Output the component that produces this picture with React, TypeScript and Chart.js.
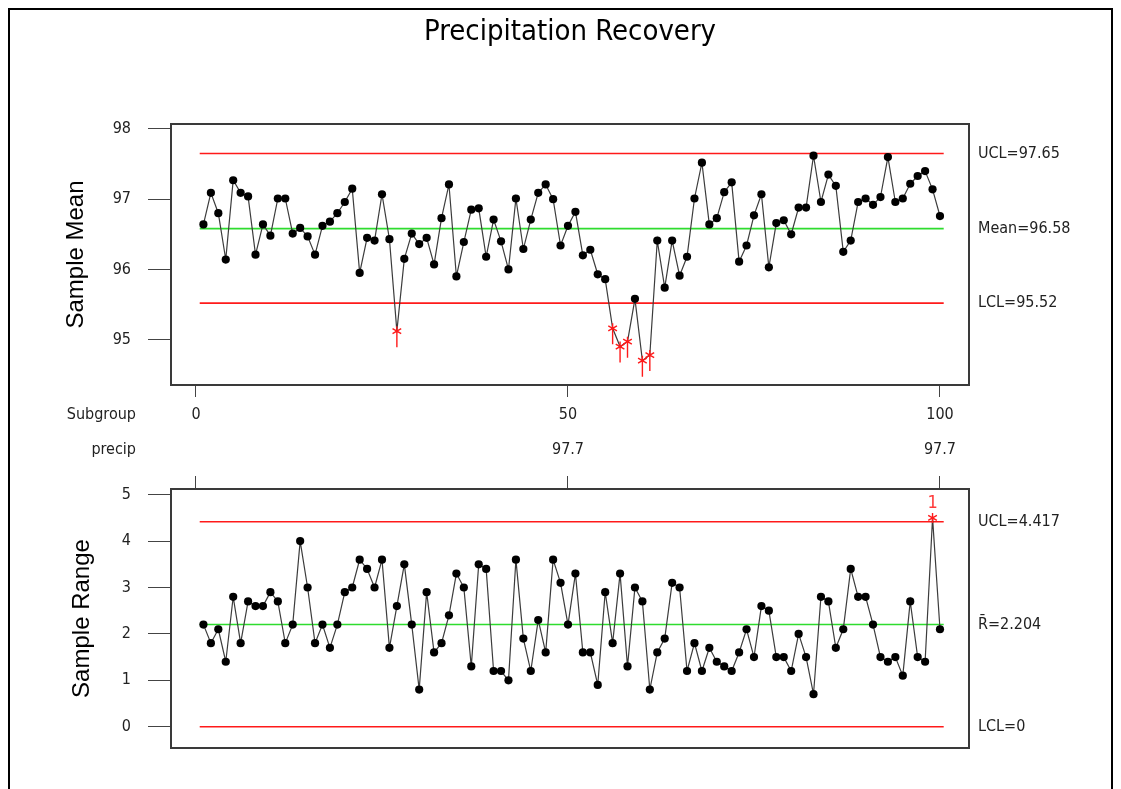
import React, { useEffect, useRef } from "react";
import { Chart, registerables } from "chart.js";

Chart.register(...registerables);

// ---------- data ----------
const subgroups = Array.from({ length: 100 }, (_, i) => i + 1);

const meanValues = [
  96.64, 97.09, 96.8, 96.14, 97.27, 97.09, 97.04, 96.21, 96.64, 96.48,
  97.01, 97.01, 96.51, 96.59, 96.47, 96.21, 96.62, 96.68, 96.8, 96.96,
  97.15, 95.95, 96.45, 96.41, 97.07, 96.43, 95.12, 96.15, 96.51, 96.36,
  96.45, 96.07, 96.73, 97.21, 95.9, 96.39, 96.85, 96.87, 96.18, 96.71,
  96.4, 96.0, 97.01, 96.29, 96.71, 97.09, 97.21, 97.0, 96.34, 96.62,
  96.82, 96.2, 96.28, 95.93, 95.86, 95.16, 94.9, 94.97, 95.58, 94.7,
  94.78, 96.41, 95.74, 96.41, 95.91, 96.18, 97.01, 97.52, 96.64, 96.73,
  97.1, 97.24, 96.11, 96.34, 96.77, 97.07, 96.03, 96.66, 96.7, 96.5,
  96.88, 96.88, 97.62, 96.96, 97.35, 97.19, 96.25, 96.41, 96.96, 97.01,
  96.92, 97.03, 97.6, 96.96, 97.01, 97.22, 97.33, 97.4, 97.14, 96.76,
];

const rangeValues = [
  2.2, 1.8, 2.1, 1.4, 2.8, 1.8, 2.7, 2.6, 2.6, 2.9,
  2.7, 1.8, 2.2, 4.0, 3.0, 1.8, 2.2, 1.7, 2.2, 2.9,
  3.0, 3.6, 3.4, 3.0, 3.6, 1.7, 2.6, 3.5, 2.2, 0.8,
  2.9, 1.6, 1.8, 2.4, 3.3, 3.0, 1.3, 3.5, 3.4, 1.2,
  1.2, 1.0, 3.6, 1.9, 1.2, 2.3, 1.6, 3.6, 3.1, 2.2,
  3.3, 1.6, 1.6, 0.9, 2.9, 1.8, 3.3, 1.3, 3.0, 2.7,
  0.8, 1.6, 1.9, 3.1, 3.0, 1.2, 1.8, 1.2, 1.7, 1.4,
  1.3, 1.2, 1.6, 2.1, 1.5, 2.6, 2.5, 1.5, 1.5, 1.2,
  2.0, 1.5, 0.7, 2.8, 2.7, 1.7, 2.1, 3.4, 2.8, 2.8,
  2.2, 1.5, 1.4, 1.5, 1.1, 2.7, 1.5, 1.4, 4.5, 2.1,
];

const meanLimits = [97.65, 96.58, 95.52];
const meanLimitLabels = ["UCL=97.65", "Mean=96.58", "LCL=95.52"];
const rangeLimits = [4.417, 2.204, 0];
const rangeLimitLabels = ["UCL=4.417", "R\u0304=2.204", "LCL=0"];

const meanFlagged = [27, 56, 57, 58, 60, 61];
const rangeFlagged = [99];

const meanTicks = [95, 96, 97, 98];
const rangeTicks = [0, 1, 2, 3, 4, 5];
const subgroupTicks = [0, 50, 100];
const precipTickLabels = ["", "97.7", "97.7"];

const limitStart = 0.5;
const limitEnd = 100.5;

// ---------- style ----------
const NARROW = '"Liberation Sans Narrow", "Arial Narrow", "DejaVu Sans Condensed", sans-serif';
const SANS = '"Liberation Sans", Arial, sans-serif';
const TEXT = "#222";
const RED = "#ff1a1a";
const GREEN = "#2edc2e";
const TICK_SIZE = 16;

const X_MIN = -3.36;
const X_MAX = 103.9;

const framePlugin = {
  id: "frame",
  afterDatasetsDraw(chart: any) {
    const { ctx, chartArea: a } = chart;
    ctx.save();
    ctx.strokeStyle = "#3a3a3a";
    ctx.lineWidth = 2;
    ctx.strokeRect(a.left, a.top, a.right - a.left, a.bottom - a.top);
    ctx.restore();
  },
};

const markerPlugin = {
  id: "markers",
  afterDatasetsDraw(chart: any, _args: any, opts: any) {
    const meta = chart.getDatasetMeta(0);
    const ctx = chart.ctx;
    ctx.save();
    ctx.strokeStyle = RED;
    ctx.fillStyle = "#ff3a3a";
    ctx.lineWidth = 1.4;
    (opts.indices || []).forEach((n: number) => {
      const pt = meta.data[n - 1];
      if (!pt) return;
      const { x, y } = pt;
      ctx.beginPath();
      if (opts.stem) {
        ctx.moveTo(x, y - 5);
        ctx.lineTo(x, y + 16);
      }
      const r = 5;
      [90, 30, 150].forEach((deg) => {
        const t = (deg * Math.PI) / 180;
        ctx.moveTo(x - r * Math.cos(t), y - r * Math.sin(t));
        ctx.lineTo(x + r * Math.cos(t), y + r * Math.sin(t));
      });
      ctx.stroke();
      if (opts.label) {
        ctx.font = `18px ${NARROW}`;
        ctx.textAlign = "center";
        ctx.textBaseline = "middle";
        ctx.fillText(opts.label, x, y - 15);
      }
    });
    ctx.restore();
  },
};

function seriesDataset(values: number[], flagged: number[]) {
  return {
    data: values.map((v, i) => ({ x: subgroups[i], y: v })),
    borderColor: "#3c3c3c",
    borderWidth: 1.2,
    pointBackgroundColor: "#000",
    pointBorderColor: "#000",
    pointBorderWidth: 0,
    pointRadius: (c: any) => (flagged.includes(c.dataIndex + 1) ? 1.2 : 4.1),
    tension: 0,
  };
}

function limitDataset(value: number, color: string) {
  return {
    data: [
      { x: limitStart, y: value },
      { x: limitEnd, y: value },
    ],
    borderColor: color,
    borderWidth: 1.6,
    pointRadius: 0,
  };
}

function leftAxis(min: number, max: number, ticks: number[], title: string, titlePad: number) {
  return {
    type: "linear",
    position: "left",
    min,
    max,
    bounds: "data",
    afterBuildTicks: (s: any) => {
      s.ticks = ticks.map((v) => ({ value: v }));
    },
    afterFit: (s: any) => {
      s.width = 149;
      s.paddingTop = 0;
      s.paddingBottom = 0;
    },
    grid: { drawOnChartArea: false, drawTicks: true, tickLength: 23, color: "#444", lineWidth: 1 },
    border: { display: false },
    ticks: { padding: 17, color: TEXT, font: { family: NARROW, size: TICK_SIZE } },
    title: {
      display: true,
      text: title,
      color: "#000",
      font: { family: SANS, size: 24, lineHeight: 1.2 },
      padding: { top: titlePad, bottom: 0 },
    },
  };
}

function rightAxis(min: number, max: number, limits: number[], labels: string[]) {
  return {
    type: "linear",
    position: "right",
    min,
    max,
    bounds: "data",
    afterBuildTicks: (s: any) => {
      s.ticks = limits.map((v) => ({ value: v }));
    },
    afterFit: (s: any) => {
      s.width = 149;
      s.paddingTop = 0;
      s.paddingBottom = 0;
    },
    grid: { display: false, drawTicks: false },
    border: { display: false },
    ticks: {
      padding: 9,
      color: TEXT,
      font: { family: NARROW, size: TICK_SIZE },
      callback: (_v: any, i: number) => labels[i],
    },
  };
}

function topConfig(): any {
  return {
    type: "line",
    data: {
      datasets: [
        seriesDataset(meanValues, meanFlagged),
        limitDataset(meanLimits[0], RED),
        limitDataset(meanLimits[1], GREEN),
        limitDataset(meanLimits[2], RED),
      ],
    },
    options: {
      responsive: false,
      animation: false,
      devicePixelRatio: 1,
      layout: { padding: { left: 22, right: 3, top: 0, bottom: 0 } },
      plugins: {
        legend: { display: false },
        tooltip: { enabled: false },
        title: {
          display: true,
          text: "Precipitation Recovery",
          color: "#000",
          font: { family: NARROW, size: 29, weight: "normal", lineHeight: 1.2 },
          padding: { top: 14.6, bottom: 74.6 },
        },
        markers: { indices: meanFlagged, stem: true },
      },
      scales: {
        x: {
          type: "linear",
          position: "bottom",
          min: X_MIN,
          max: X_MAX,
          bounds: "data",
          afterBuildTicks: (s: any) => {
            s.ticks = subgroupTicks.map((v) => ({ value: v }));
          },
          afterFit: (s: any) => {
            s.height = 85;
            s.paddingLeft = 0;
            s.paddingRight = 0;
          },
          grid: { drawOnChartArea: false, drawTicks: true, tickLength: 12, color: "#444" },
          border: { display: false },
          ticks: {
            padding: 0,
            color: TEXT,
            maxRotation: 0,
            autoSkip: false,
            font: { family: NARROW, size: TICK_SIZE, lineHeight: 35 / TICK_SIZE },
            callback: (v: any, i: number) =>
              precipTickLabels[i] ? [String(v), precipTickLabels[i]] : String(v),
          },
        },
        y: leftAxis(94.353, 98.071, meanTicks, "Sample Mean", 40),
        yr: rightAxis(94.353, 98.071, meanLimits, meanLimitLabels),
      },
    },
    plugins: [framePlugin, markerPlugin],
  };
}

function bottomConfig(): any {
  return {
    type: "line",
    data: {
      datasets: [
        seriesDataset(rangeValues, rangeFlagged),
        limitDataset(rangeLimits[0], RED),
        limitDataset(rangeLimits[1], GREEN),
        limitDataset(rangeLimits[2], RED),
      ],
    },
    options: {
      responsive: false,
      animation: false,
      devicePixelRatio: 1,
      layout: { padding: { left: 22, right: 3, top: 0, bottom: 41 } },
      plugins: {
        legend: { display: false },
        tooltip: { enabled: false },
        markers: { indices: rangeFlagged, stem: false, label: "1" },
      },
      scales: {
        x: {
          type: "linear",
          position: "top",
          min: X_MIN,
          max: X_MAX,
          bounds: "data",
          afterBuildTicks: (s: any) => {
            s.ticks = subgroupTicks.map((v) => ({ value: v }));
          },
          afterFit: (s: any) => {
            s.height = 19;
            s.paddingLeft = 0;
            s.paddingRight = 0;
          },
          grid: { drawOnChartArea: false, drawTicks: true, tickLength: 13, color: "#444" },
          border: { display: false },
          ticks: { padding: 0, maxRotation: 0, autoSkip: false, callback: () => "" },
        },
        y: leftAxis(-0.459, 5.123, rangeTicks, "Sample Range", 46),
        yr: rightAxis(-0.459, 5.123, rangeLimits, rangeLimitLabels),
      },
    },
    plugins: [framePlugin, markerPlugin],
  };
}

export default function App() {
  const topRef = useRef<HTMLCanvasElement>(null);
  const botRef = useRef<HTMLCanvasElement>(null);

  useEffect(() => {
    const c1 = new Chart(topRef.current as HTMLCanvasElement, topConfig());
    const c2 = new Chart(botRef.current as HTMLCanvasElement, bottomConfig());
    return () => {
      c1.destroy();
      c2.destroy();
    };
  }, []);

  const sideLabel: React.CSSProperties = {
    position: "absolute",
    right: 1121 - 136,
    font: `${TICK_SIZE}px ${NARROW}`,
    lineHeight: "22px",
    color: TEXT,
    whiteSpace: "nowrap",
  };

  return (
    <div
      style={{
        position: "fixed",
        left: 0,
        top: 0,
        width: 1121,
        height: 789,
        overflow: "hidden",
        background: "#fff",
      }}
    >
      <div
        style={{
          position: "absolute",
          left: 8,
          top: 8,
          width: 1105,
          height: 900,
          boxSizing: "border-box",
          border: "2px solid #000",
        }}
      />
      <canvas
        ref={topRef}
        width={1121}
        height={470}
        style={{ position: "absolute", left: 0, top: 0, width: 1121, height: 470 }}
      />
      <canvas
        ref={botRef}
        width={1121}
        height={319}
        style={{ position: "absolute", left: 0, top: 470, width: 1121, height: 319 }}
      />
      <div style={{ ...sideLabel, top: 403 }}>Subgroup</div>
      <div style={{ ...sideLabel, top: 438 }}>precip</div>
    </div>
  );
}
